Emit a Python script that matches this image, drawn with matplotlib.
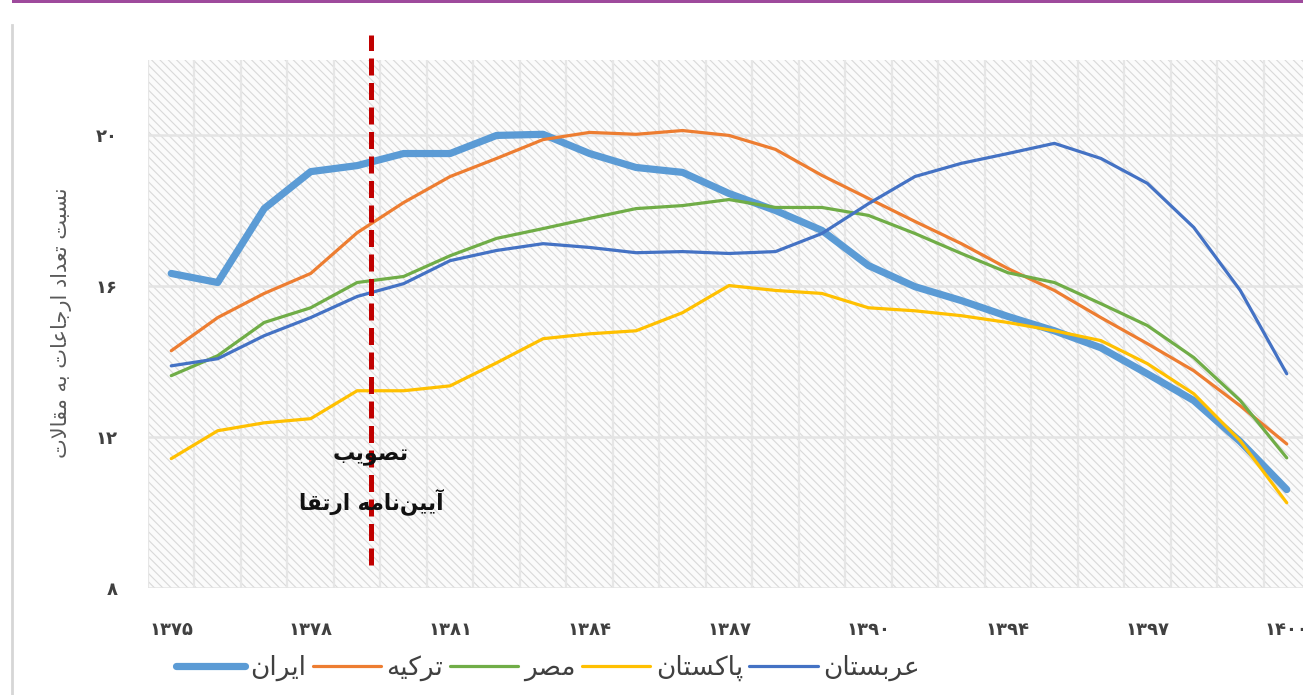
import matplotlib
matplotlib.use('Agg')
import matplotlib.pyplot as plt
from matplotlib.patches import Rectangle
from matplotlib.lines import Line2D

# ---------------- data ----------------
tick_labels = ['۱۳۷۵', '۱۳۷۸', '۱۳۸۱', '۱۳۸۴', '۱۳۸۷', '۱۳۹۰', '۱۳۹۴', '۱۳۹۷', '۱۴۰۰']
tick_index = [0, 3, 6, 9, 12, 15, 18, 21, 24]
y_ticks = [8, 12, 16, 20]
y_tick_labels = ['۸', '۱۲', '۱۶', '۲۰']

iran = [16.34, 16.10, 18.06, 19.04, 19.20, 19.52, 19.52, 20.00, 20.03, 19.52, 19.15, 19.02,
        18.46, 18.01, 17.48, 16.55, 15.99, 15.62, 15.20, 14.82, 14.37, 13.68, 12.97, 11.88, 10.61]
turkey = [14.29, 15.17, 15.81, 16.34, 17.42, 18.22, 18.91, 19.39, 19.89, 20.08, 20.03, 20.13,
          20.00, 19.63, 18.94, 18.33, 17.72, 17.13, 16.47, 15.89, 15.17, 14.48, 13.76, 12.83, 11.82]
egypt = [13.63, 14.16, 15.04, 15.43, 16.10, 16.26, 16.81, 17.27, 17.53, 17.80, 18.06, 18.14,
         18.30, 18.09, 18.09, 17.88, 17.40, 16.87, 16.36, 16.10, 15.54, 14.96, 14.11, 12.97, 11.45]
pakistan = [11.43, 12.17, 12.38, 12.49, 13.23, 13.23, 13.36, 13.97, 14.61, 14.74, 14.82, 15.30,
            16.02, 15.89, 15.81, 15.43, 15.35, 15.22, 15.04, 14.82, 14.56, 13.95, 13.15, 11.90, 10.26]
arabia = [13.89, 14.08, 14.69, 15.17, 15.73, 16.07, 16.68, 16.95, 17.13, 17.03, 16.89, 16.92,
          16.87, 16.92, 17.40, 18.19, 18.91, 19.26, 19.52, 19.79, 19.39, 18.73, 17.56, 15.89, 13.68]

series_names = ['ایران', 'ترکیه', 'مصر', 'پاکستان', 'عربستان']
series_values = [iran, turkey, egypt, pakistan, arabia]
series_colors = ['#5B9BD5', '#ED7D31', '#70AD47', '#FFC000', '#4472C4']
series_widths = [5.2, 2.3, 2.3, 2.3, 2.3]

y_label = 'نسبت تعداد ارجاعات به مقالات'
event_pos = 4.3
event_text1 = 'تصویب'
event_text2 = 'آیین\u200cنامه ارتقا'

# ---------------- Persian shaping (presentation forms) ----------------
FORMS = {
    '\u0621': ('\uFE80', None, None, None),
    '\u0622': ('\uFE81', '\uFE82', None, None),
    '\u0627': ('\uFE8D', '\uFE8E', None, None),
    '\u0628': ('\uFE8F', '\uFE90', '\uFE91', '\uFE92'),
    '\u062A': ('\uFE95', '\uFE96', '\uFE97', '\uFE98'),
    '\u062C': ('\uFE9D', '\uFE9E', '\uFE9F', '\uFEA0'),
    '\u062F': ('\uFEA9', '\uFEAA', None, None),
    '\u0631': ('\uFEAD', '\uFEAE', None, None),
    '\u0633': ('\uFEB1', '\uFEB2', '\uFEB3', '\uFEB4'),
    '\u0635': ('\uFEB9', '\uFEBA', '\uFEBB', '\uFEBC'),
    '\u0639': ('\uFEC9', '\uFECA', '\uFECB', '\uFECC'),
    '\u0642': ('\uFED5', '\uFED6', '\uFED7', '\uFED8'),
    '\u0644': ('\uFEDD', '\uFEDE', '\uFEDF', '\uFEE0'),
    '\u0645': ('\uFEE1', '\uFEE2', '\uFEE3', '\uFEE4'),
    '\u0646': ('\uFEE5', '\uFEE6', '\uFEE7', '\uFEE8'),
    '\u0647': ('\uFEE9', '\uFEEA', '\uFEEB', '\uFEEC'),
    '\u0648': ('\uFEED', '\uFEEE', None, None),
    '\u06CC': ('\uFBFC', '\uFBFD', '\uFBFE', '\uFBFF'),
    '\u06A9': ('\uFB8E', '\uFB8F', '\uFB90', '\uFB91'),
    '\u067E': ('\uFB56', '\uFB57', '\uFB58', '\uFB59'),
}
LAM_ALEF = {'\u0627': ('\uFEFB', '\uFEFC'), '\u0622': ('\uFEF5', '\uFEF6')}


def shape(text):
    chars = list(text)
    units = []
    i = 0
    while i < len(chars):
        c = chars[i]
        if c == '\u0644' and i + 1 < len(chars) and chars[i + 1] in LAM_ALEF:
            units.append(('LA', chars[i + 1]))
            i += 2
        else:
            units.append((c, None))
            i += 1

    def joins_next(u):
        if u[0] == 'LA':
            return False
        f = FORMS.get(u[0])
        return f is not None and f[2] is not None

    def joins_prev(u):
        if u[0] == 'LA':
            return True
        f = FORMS.get(u[0])
        return f is not None and f[1] is not None

    out = []
    for k, u in enumerate(units):
        c, a = u
        prev = units[k - 1] if k > 0 else None
        nxt = units[k + 1] if k + 1 < len(units) else None
        cp = prev is not None and joins_next(prev) and joins_prev(u)
        cn = nxt is not None and joins_next(u) and joins_prev(nxt)
        if c == 'LA':
            out.append(LAM_ALEF[a][1 if cp else 0])
            continue
        if c == '\u200c':
            continue
        f = FORMS.get(c)
        if f is None:
            out.append(c)
            continue
        if cp and cn:
            out.append(f[3])
        elif cp:
            out.append(f[1])
        elif cn:
            out.append(f[2])
        else:
            out.append(f[0])
    return ''.join(reversed(out))


# ---------------- figure ----------------
plt.rcParams['font.family'] = ['DejaVu Sans']
plt.rcParams['hatch.linewidth'] = 0.8

W, H = 1303, 695
fig = plt.figure(figsize=(W / 100, H / 100), dpi=100)
fig.patch.set_facecolor('white')

# decorative frame elements
fig.add_artist(Rectangle((12 / W, 1 - 3 / H), 1 - 12 / W, 3 / H, transform=fig.transFigure,
                         facecolor='#9E4A9C', edgecolor='none'))
fig.add_artist(Line2D([12 / W, 12 / W], [0, 1 - 25 / H], transform=fig.transFigure,
                      color='#D6D6D6', linewidth=2))

ax = fig.add_axes([148 / W, 1 - 588 / H, (1310 - 148) / W, (588 - 60) / H])
ax.set_facecolor('white')
ax.add_patch(Rectangle((0, 0), 1, 1, transform=ax.transAxes, facecolor='#FBFBFB',
                       edgecolor='#D9D9D9', linewidth=0, hatch='\\' * 4, zorder=0))

n = len(iran)
xs = list(range(n))
ax.set_xlim(-0.5, n - 0.5)
ax.set_ylim(8, 22)

for b in range(n + 1):
    ax.axvline(b - 0.5, color='#E6E6E6', linewidth=1.6, zorder=1)
for yt in y_ticks:
    ax.axhline(yt, color='#E4E4E4', linewidth=1.8, zorder=1)

for name, vals, col, lw in zip(series_names, series_values, series_colors, series_widths):
    ax.plot(xs, vals, color=col, linewidth=lw, solid_capstyle='round',
            solid_joinstyle='round', label=shape(name), zorder=3)

# event line (extends above plot area)
ax.plot([event_pos, event_pos], [8.6, 22.65], color='#C00000', linewidth=3.6,
        dashes=(3.4, 1.5), clip_on=False, zorder=5)
ax.text(event_pos, 11.5, shape(event_text1), ha='center', va='center', fontsize=16,
        fontweight='bold', color='#111111', zorder=6)
ax.text(event_pos, 10.3, shape(event_text2), ha='center', va='center', fontsize=15.5,
        fontweight='bold', color='#111111', zorder=6)

for s in ax.spines.values():
    s.set_visible(False)
ax.set_xticks(tick_index)
ax.set_xticklabels(tick_labels, fontsize=13, color='#404040', fontweight='bold')
ax.set_yticks(y_ticks)
ax.set_yticklabels(y_tick_labels, fontsize=13, color='#404040', fontweight='bold')
ax.tick_params(axis='x', length=0, pad=24)
ax.tick_params(axis='y', length=0, pad=22)

fig.text(62 / W, 1 - 323 / H, shape(y_label), rotation=90, ha='center', va='center',
         fontsize=15, color='#595959')

leg = fig.legend(loc='center', bbox_to_anchor=(548 / W, 1 - 668 / H), ncol=5, frameon=False,
                 fontsize=19, handlelength=2.6, handletextpad=0.2, columnspacing=0.25,
                 labelcolor='#404040')

fig.savefig('out.png', dpi=100, facecolor='white')
